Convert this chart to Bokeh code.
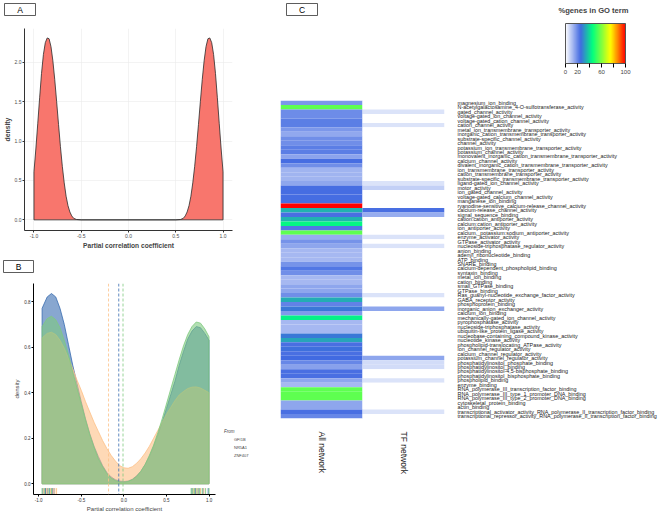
from bokeh.plotting import figure
from bokeh.models import (Span, Legend, LegendItem, LinearColorMapper, ColorBar, ColumnDataSource,
                          FixedTicker, Label, BoxAnnotation, FactorRange, NumeralTickFormatter)
from bokeh.layouts import row, column
from bokeh.embed import file_html
from bokeh.resources import INLINE

FONT = "Liberation Sans"

# ---------------- Panel A data ----------------
a_x = [-1.00, -0.98, -0.96, -0.94, -0.92, -0.90, -0.88, -0.86, -0.84, -0.82, -0.80, -0.78,
       -0.76, -0.74, -0.72, -0.70, -0.68, -0.66, -0.64, -0.62, -0.60, -0.58, -0.55, -0.50,
       0.50, 0.55, 0.58, 0.60, 0.62, 0.64, 0.66, 0.68, 0.70, 0.72, 0.74, 0.76,
       0.78, 0.80, 0.82, 0.84, 0.86, 0.88, 0.90, 0.92, 0.94, 0.96, 0.98, 1.00]
a_y = [0.61, 0.90, 1.22, 1.55, 1.86, 2.10, 2.25, 2.31, 2.30, 2.20, 2.02, 1.78,
       1.50, 1.21, 0.93, 0.68, 0.47, 0.30, 0.18, 0.10, 0.05, 0.02, 0.005, 0.0,
       0.0, 0.005, 0.02, 0.05, 0.10, 0.18, 0.30, 0.47, 0.68, 0.93, 1.21, 1.50,
       1.78, 2.02, 2.20, 2.30, 2.31, 2.25, 2.10, 1.86, 1.55, 1.22, 0.90, 0.61]
a_xticks = [-1.0, -0.5, 0.0, 0.5, 1.0]
a_yticks = [0.0, 0.5, 1.0, 1.5, 2.0]

# ---------------- Panel B data ----------------
b_x = [-0.96, -0.90, -0.85, -0.80, -0.75, -0.70, -0.65, -0.60, -0.55, -0.50,
       -0.45, -0.40, -0.35, -0.30, -0.25, -0.20, -0.15, -0.10, -0.05, 0.00,
       0.05, 0.10, 0.15, 0.20, 0.25, 0.30, 0.35, 0.40, 0.45, 0.50,
       0.55, 0.60, 0.65, 0.70, 0.75, 0.80, 0.85, 0.90, 0.95, 1.00]
gfi1b = [0.77, 0.82, 0.835, 0.82, 0.77, 0.70, 0.61, 0.52, 0.44, 0.36,
         0.285, 0.22, 0.165, 0.12, 0.08, 0.05, 0.03, 0.018, 0.012, 0.01,
         0.012, 0.02, 0.035, 0.055, 0.085, 0.12, 0.165, 0.215, 0.27, 0.33,
         0.39, 0.45, 0.52, 0.58, 0.635, 0.67, 0.69, 0.685, 0.66, 0.63]
nr5a1 = [0.64, 0.66, 0.665, 0.655, 0.63, 0.595, 0.55, 0.505, 0.455, 0.41,
         0.36, 0.315, 0.27, 0.23, 0.19, 0.155, 0.125, 0.10, 0.08, 0.07,
         0.068, 0.075, 0.09, 0.11, 0.135, 0.165, 0.20, 0.235, 0.27, 0.305,
         0.335, 0.365, 0.39, 0.405, 0.418, 0.424, 0.425, 0.42, 0.41, 0.40]
znf407 = [0.69, 0.725, 0.735, 0.72, 0.685, 0.63, 0.565, 0.49, 0.42, 0.35,
          0.28, 0.215, 0.16, 0.11, 0.075, 0.045, 0.025, 0.014, 0.008, 0.007,
          0.01, 0.018, 0.032, 0.055, 0.085, 0.125, 0.17, 0.225, 0.285, 0.35,
          0.415, 0.48, 0.545, 0.605, 0.655, 0.69, 0.71, 0.705, 0.68, 0.645]
b_groups = ["GFI1B", "NR5A1", "ZNF407"]
b_means = [-0.06, -0.18, -0.01]
gfi1b_rug = [-0.95, -0.92, -0.90, -0.87, -0.84, -0.82, 0.80, 0.84, 0.88, 0.93, 0.99]
nr5a1_rug = [-0.94, -0.91, -0.89, -0.86, -0.83, -0.81, -0.79, 0.82, 0.85, 0.87, 0.90, 0.94]
znf407_rug = [-0.96, -0.93, -0.88, -0.85, 0.79, 0.81, 0.83, 0.86, 0.89, 0.92, 0.96, 1.00]
b_xticks = [-1.0, -0.5, 0.0, 0.5, 1.0]
b_yticks = [0.0, 0.2, 0.4, 0.6, 0.8]

# ---------------- Panel C data ----------------
go_terms = [
    "magnesium_ion_binding",
    "N-acetylgalactosamine_4-O-sulfotransferase_activity",
    "gated_channel_activity",
    "voltage-gated_ion_channel_activity",
    "voltage-gated_cation_channel_activity",
    "cation_channel_activity",
    "metal_ion_transmembrane_transporter_activity",
    "inorganic_cation_transmembrane_transporter_activity",
    "substrate-specific_channel_activity",
    "channel_activity",
    "potassium_ion_transmembrane_transporter_activity",
    "potassium_channel_activity",
    "monovalent_inorganic_cation_transmembrane_transporter_activity",
    "calcium_channel_activity",
    "divalent_inorganic_cation_transmembrane_transporter_activity",
    "ion_transmembrane_transporter_activity",
    "cation_transmembrane_transporter_activity",
    "substrate-specific_transmembrane_transporter_activity",
    "ligand-gated_ion_channel_activity",
    "motor_activity",
    "ion_gated_channel_activity",
    "voltage-gated_calcium_channel_activity",
    "manganese_ion_binding",
    "ryanodine-sensitive_calcium-release_channel_activity",
    "calcium-release_channel_activity",
    "signal_sequence_binding",
    "cation:cation_antiporter_activity",
    "calcium:cation_antiporter_activity",
    "ion_antiporter_activity",
    "calcium,_potassium:sodium_antiporter_activity",
    "enzyme_activator_activity",
    "GTPase_activator_activity",
    "nucleoside-triphosphatase_regulator_activity",
    "anion_binding",
    "adenyl_ribonucleotide_binding",
    "ATP_binding",
    "SNARE_binding",
    "calcium-dependent_phospholipid_binding",
    "syntaxin_binding",
    "metal_ion_binding",
    "cation_binding",
    "small_GTPase_binding",
    "GTPase_binding",
    "Ras_guanyl-nucleotide_exchange_factor_activity",
    "GABA_receptor_activity",
    "phosphoprotein_binding",
    "inorganic_anion_exchanger_activity",
    "calcium_ion_binding",
    "mechanically-gated_ion_channel_activity",
    "pyrophosphatase_activity",
    "nucleoside-triphosphatase_activity",
    "ubiquitin-like_protein_ligase_activity",
    "nucleobase-containing_compound_kinase_activity",
    "nucleotide_kinase_activity",
    "phospholipid-translocating_ATPase_activity",
    "ion_channel_regulator_activity",
    "calcium_channel_regulator_activity",
    "potassium_channel_regulator_activity",
    "phosphatidylinositol_phosphate_binding",
    "phosphatidylinositol_binding",
    "phosphatidylinositol-4,5-bisphosphate_binding",
    "phosphatidylinositol_bisphosphate_binding",
    "phospholipid_binding",
    "enzyme_binding",
    "RNA_polymerase_III_transcription_factor_binding",
    "RNA_polymerase_III_type_1_promoter_DNA_binding",
    "RNA_polymerase_III_type_2_promoter_DNA_binding",
    "cytoskeletal_protein_binding",
    "actin_binding",
    "transcriptional_activator_activity_RNA_polymerase_II_transcription_factor_binding",
    "transcriptional_repressor_activity_RNA_polymerase_II_transcription_factor_binding",
]
networks = ["All network", "TF network"]
all_network = [17.5, 56, 19.5, 19.5, 21.5, 21.5, 17.5, 14.5, 19, 19,
               21.5, 21.5, 15.5, 24.5, 19, 12.5, 12.5, 12.5, 15, 24.5,
               24.5, 24.5, 24.5, 100, 35, 24, 35, 44, 23, 56,
               14, 18, 15, 12, 12, 12, 18, 23, 19, 12,
               12, 15, 15, 19, 34, 21, 27, 17, 43, 12,
               12, 12, 27, 33, 24, 26, 24, 25, 20, 16,
               24, 24, 15, 12, 56, 56, 56, 15, 15, 24,
               20]
tf_network = [0, 0, 5, 0, 0, 5, 0, 0, 0, 0,
              0, 0, 0, 0, 0, 0, 0, 0, 5, 8,
              0, 0, 0, 0, 24, 14, 0, 0, 0, 0,
              5, 0, 5, 0, 0, 0, 0, 0, 0, 0,
              0, 0, 0, 5, 0, 0, 15, 0, 0, 0,
              0, 0, 0, 0, 0, 0, 0, 15, 6, 6,
              0, 0, 5, 0, 0, 0, 0, 0, 0, 5,
              0]
cbar_ticks = [0, 20, 40, 60, 80, 100]
cbar_labels = {0: "0", 20: "20", 40: "", 60: "60", 80: "", 100: "100"}

# colour ramp anchors (style)
ramp_stops = [(0, (255, 255, 255)), (25, (65, 105, 225)), (45, (0, 255, 127)),
              (75, (255, 255, 0)), (100, (255, 0, 0))]


def make_palette(stops, n=256):
    pal = []
    for i in range(n):
        t = 100.0 * i / (n - 1)
        for (p0, c0), (p1, c1) in zip(stops[:-1], stops[1:]):
            if p0 <= t <= p1:
                f = (t - p0) / (p1 - p0)
                c = [round(a + (b - a) * f) for a, b in zip(c0, c1)]
                pal.append("#%02x%02x%02x" % tuple(c))
                break
    return pal


def style_axis(ax, size, color="#4D4D4D"):
    ax.major_label_text_font = FONT
    ax.major_label_text_font_size = size
    ax.major_label_text_color = color
    ax.axis_label_text_font = FONT
    ax.axis_label_text_font_style = "normal"
    ax.minor_tick_line_color = None
    ax.major_tick_in = 0
    ax.major_tick_out = 2
    ax.major_label_standoff = 1
    ax.axis_label_standoff = 1


def blank(width, height):
    """A blank strip whose frame fills the canvas; used for panel letters, legend, colour key."""
    h = figure(width=width, height=height, x_range=(0, 1), y_range=(0, 1),
               output_backend="svg", toolbar_location=None, x_axis_type=None, y_axis_type=None,
               min_border=0, min_border_left=0, min_border_right=0, min_border_top=0,
               min_border_bottom=0, frame_align=False)
    h.outline_line_color = None
    h.xgrid.grid_line_color = None
    h.ygrid.grid_line_color = None
    return h


def panel_box(p, left, right, top, bottom, letter):
    # screen units measured from the frame's bottom-left corner
    p.add_layout(BoxAnnotation(left=left, right=right, top=top, bottom=bottom,
                               left_units="screen", right_units="screen",
                               top_units="screen", bottom_units="screen",
                               fill_color="white", fill_alpha=1.0,
                               line_color="#333333", line_width=0.8, line_alpha=1.0))
    p.add_layout(Label(x=(left + right) / 2, y=(top + bottom) / 2, x_units="screen", y_units="screen",
                       text=letter, text_font=FONT, text_font_size="8.5px",
                       text_align="center", text_baseline="middle", text_color="black"))


# ================= Panel A =================
hdrA = blank(250, 24)
panel_box(hdrA, 4, 35, 21, 9, "A")

pA = figure(frame_width=208, frame_height=202, x_range=(-1.1, 1.1), y_range=(-0.135, 2.43),
            output_backend="svg", toolbar_location=None, frame_align=False,
            min_border_left=24, min_border_right=18, min_border_top=4, min_border_bottom=18)
pA.outline_line_color = None
pA.patch(a_x + [a_x[-1], a_x[0]], a_y + [0, 0], fill_color="#F8766D",
         line_color="#2b2b2b", line_width=0.8)
pA.xaxis.ticker = FixedTicker(ticks=a_xticks)
pA.yaxis.ticker = FixedTicker(ticks=a_yticks)
pA.xaxis.formatter = NumeralTickFormatter(format="0.0")
pA.yaxis.formatter = NumeralTickFormatter(format="0.0")
for ax in (pA.xaxis[0], pA.yaxis[0]):
    style_axis(ax, "5px")
    ax.axis_line_color = "#333333"
    ax.major_tick_line_color = "#333333"
    ax.axis_label_text_font_style = "bold"
pA.xaxis.axis_label = "Partial correlation coefficient"
pA.xaxis.axis_label_text_font_size = "6.6px"
pA.yaxis.axis_label = "density"
pA.yaxis.axis_label_text_font_size = "6.8px"
pA.xgrid.grid_line_color = "#EBEBEB"
pA.ygrid.grid_line_color = "#EBEBEB"
pA.xgrid.grid_line_width = 0.6
pA.ygrid.grid_line_width = 0.6

# ================= Panel B =================
hdrB = blank(250, 24)
panel_box(hdrB, 3, 33, 15, 3, "B")

b_colors = ["#386CB0", "#FDC086", "#7FC97F"]
b_series = [gfi1b, nr5a1, znf407]
b_rugs = [gfi1b_rug, nr5a1_rug, znf407_rug]
RUG_Y0, RUG_Y1 = -0.047, -0.019

pB = figure(frame_width=182, frame_height=211, x_range=(-1.061, 1.076), y_range=(-0.047, 0.879),
            output_backend="svg", toolbar_location=None, frame_align=False,
            min_border_left=33, min_border_right=3, min_border_top=8, min_border_bottom=16)
pB.outline_line_color = None
pB.xgrid.grid_line_color = None
pB.ygrid.grid_line_color = None
for name, col, ys, rug, m in zip(b_groups, b_colors, b_series, b_rugs, b_means):
    pB.patch(b_x + [b_x[-1], b_x[0]], ys + [0, 0], fill_color=col, fill_alpha=0.6,
             line_color=col, line_width=0.8)
    pB.add_layout(Span(location=m, dimension="height", line_color=col,
                       line_dash="3 2", line_width=0.8))
    pB.segment(x0=rug, y0=RUG_Y0, x1=rug, y1=RUG_Y1, line_color=col, line_width=0.9)
pB.xaxis.ticker = FixedTicker(ticks=b_xticks)
pB.yaxis.ticker = FixedTicker(ticks=b_yticks)
pB.xaxis.formatter = NumeralTickFormatter(format="0.0")
pB.yaxis.formatter = NumeralTickFormatter(format="0.0")
for ax in (pB.xaxis[0], pB.yaxis[0]):
    style_axis(ax, "4.5px", "#333333")
    ax.axis_line_color = "black"
    ax.major_tick_line_color = "black"
pB.xaxis.axis_label = "Partial correlation coefficient"
pB.xaxis.axis_label_text_font_size = "6px"
pB.yaxis.axis_label = "density"
pB.yaxis.axis_label_text_font_size = "6px"

# legend strip for panel B (key glyphs styled like the densities)
legB = blank(32, 236)
items = []
for name, col in zip(b_groups, b_colors):
    kr = legB.patch(x=[], y=[], fill_color=col, fill_alpha=0.6, line_color=col, line_width=0.8)
    items.append(LegendItem(label=name, renderers=[kr]))
legend = Legend(items=items, location=(6, 52), title="From",
                title_text_font=FONT, title_text_font_size="4.5px", title_standoff=2,
                label_text_font=FONT, label_text_font_size="4px",
                glyph_width=8, glyph_height=7, label_height=7, label_standoff=2,
                spacing=1, padding=0, margin=0,
                border_line_color=None, background_fill_alpha=0)
legB.add_layout(legend, "center")

# ================= Panel C =================
mapper = LinearColorMapper(palette=make_palette(ramp_stops), low=0, high=100)

hdrC = blank(410, 92)
panel_box(hdrC, 36, 67, 89, 77, "C")
cbar = ColorBar(color_mapper=mapper, orientation="horizontal", width=60, height=40,
                location=(315, 16), ticker=FixedTicker(ticks=cbar_ticks),
                major_label_overrides=cbar_labels,
                major_tick_in=0, major_tick_out=4, major_tick_line_color="black",
                major_label_text_font=FONT, major_label_text_font_size="6px",
                label_standoff=2, bar_line_color="#555555", padding=0,
                background_fill_alpha=0, border_line_color=None)
hdrC.add_layout(cbar, "center")
hdrC.add_layout(Label(x=343, y=82, x_units="screen", y_units="screen", text="%genes in GO term",
                      text_font=FONT, text_font_size="7.6px", text_font_style="bold",
                      text_align="center", text_baseline="middle"))

cells_x = [networks[0]] * len(go_terms) + [networks[1]] * len(go_terms)
cells_y = go_terms + go_terms
cells_v = all_network + tf_network
src = ColumnDataSource(dict(x=cells_x, y=cells_y, v=cells_v))

pC = figure(width=410, height=392, x_range=FactorRange(factors=networks),
            y_range=FactorRange(factors=go_terms[::-1]),
            x_axis_location="below", y_axis_location="right",
            output_backend="svg", toolbar_location=None,
            min_border_left=30, min_border_right=216, min_border_top=8, min_border_bottom=66)
pC.outline_line_color = None
pC.xgrid.grid_line_color = None
pC.ygrid.grid_line_color = None
pC.rect(x="x", y="y", width=1, height=1, source=src,
        fill_color={"field": "v", "transform": mapper}, line_color=None)
for ax in (pC.xaxis[0], pC.yaxis[0]):
    ax.axis_line_color = None
    ax.major_tick_line_color = None
    ax.major_tick_out = 0
    ax.major_tick_in = 0
    ax.minor_tick_line_color = None
    ax.major_label_text_font = FONT
    ax.major_label_text_color = "#222222"
pC.yaxis.major_label_text_font_size = "5.4px"
pC.yaxis.major_label_standoff = 13
pC.xaxis.major_label_text_font_size = "8.5px"
pC.xaxis.major_label_orientation = "vertical"
pC.xaxis.major_label_standoff = 13

# blank strip under the heatmap so its column matches the left column's height
footC = blank(410, 28)

layout = row(column(hdrA, pA, hdrB, row(pB, legB)), column(hdrC, pC, footC))
open("out.html", "w").write(file_html(layout, INLINE))
